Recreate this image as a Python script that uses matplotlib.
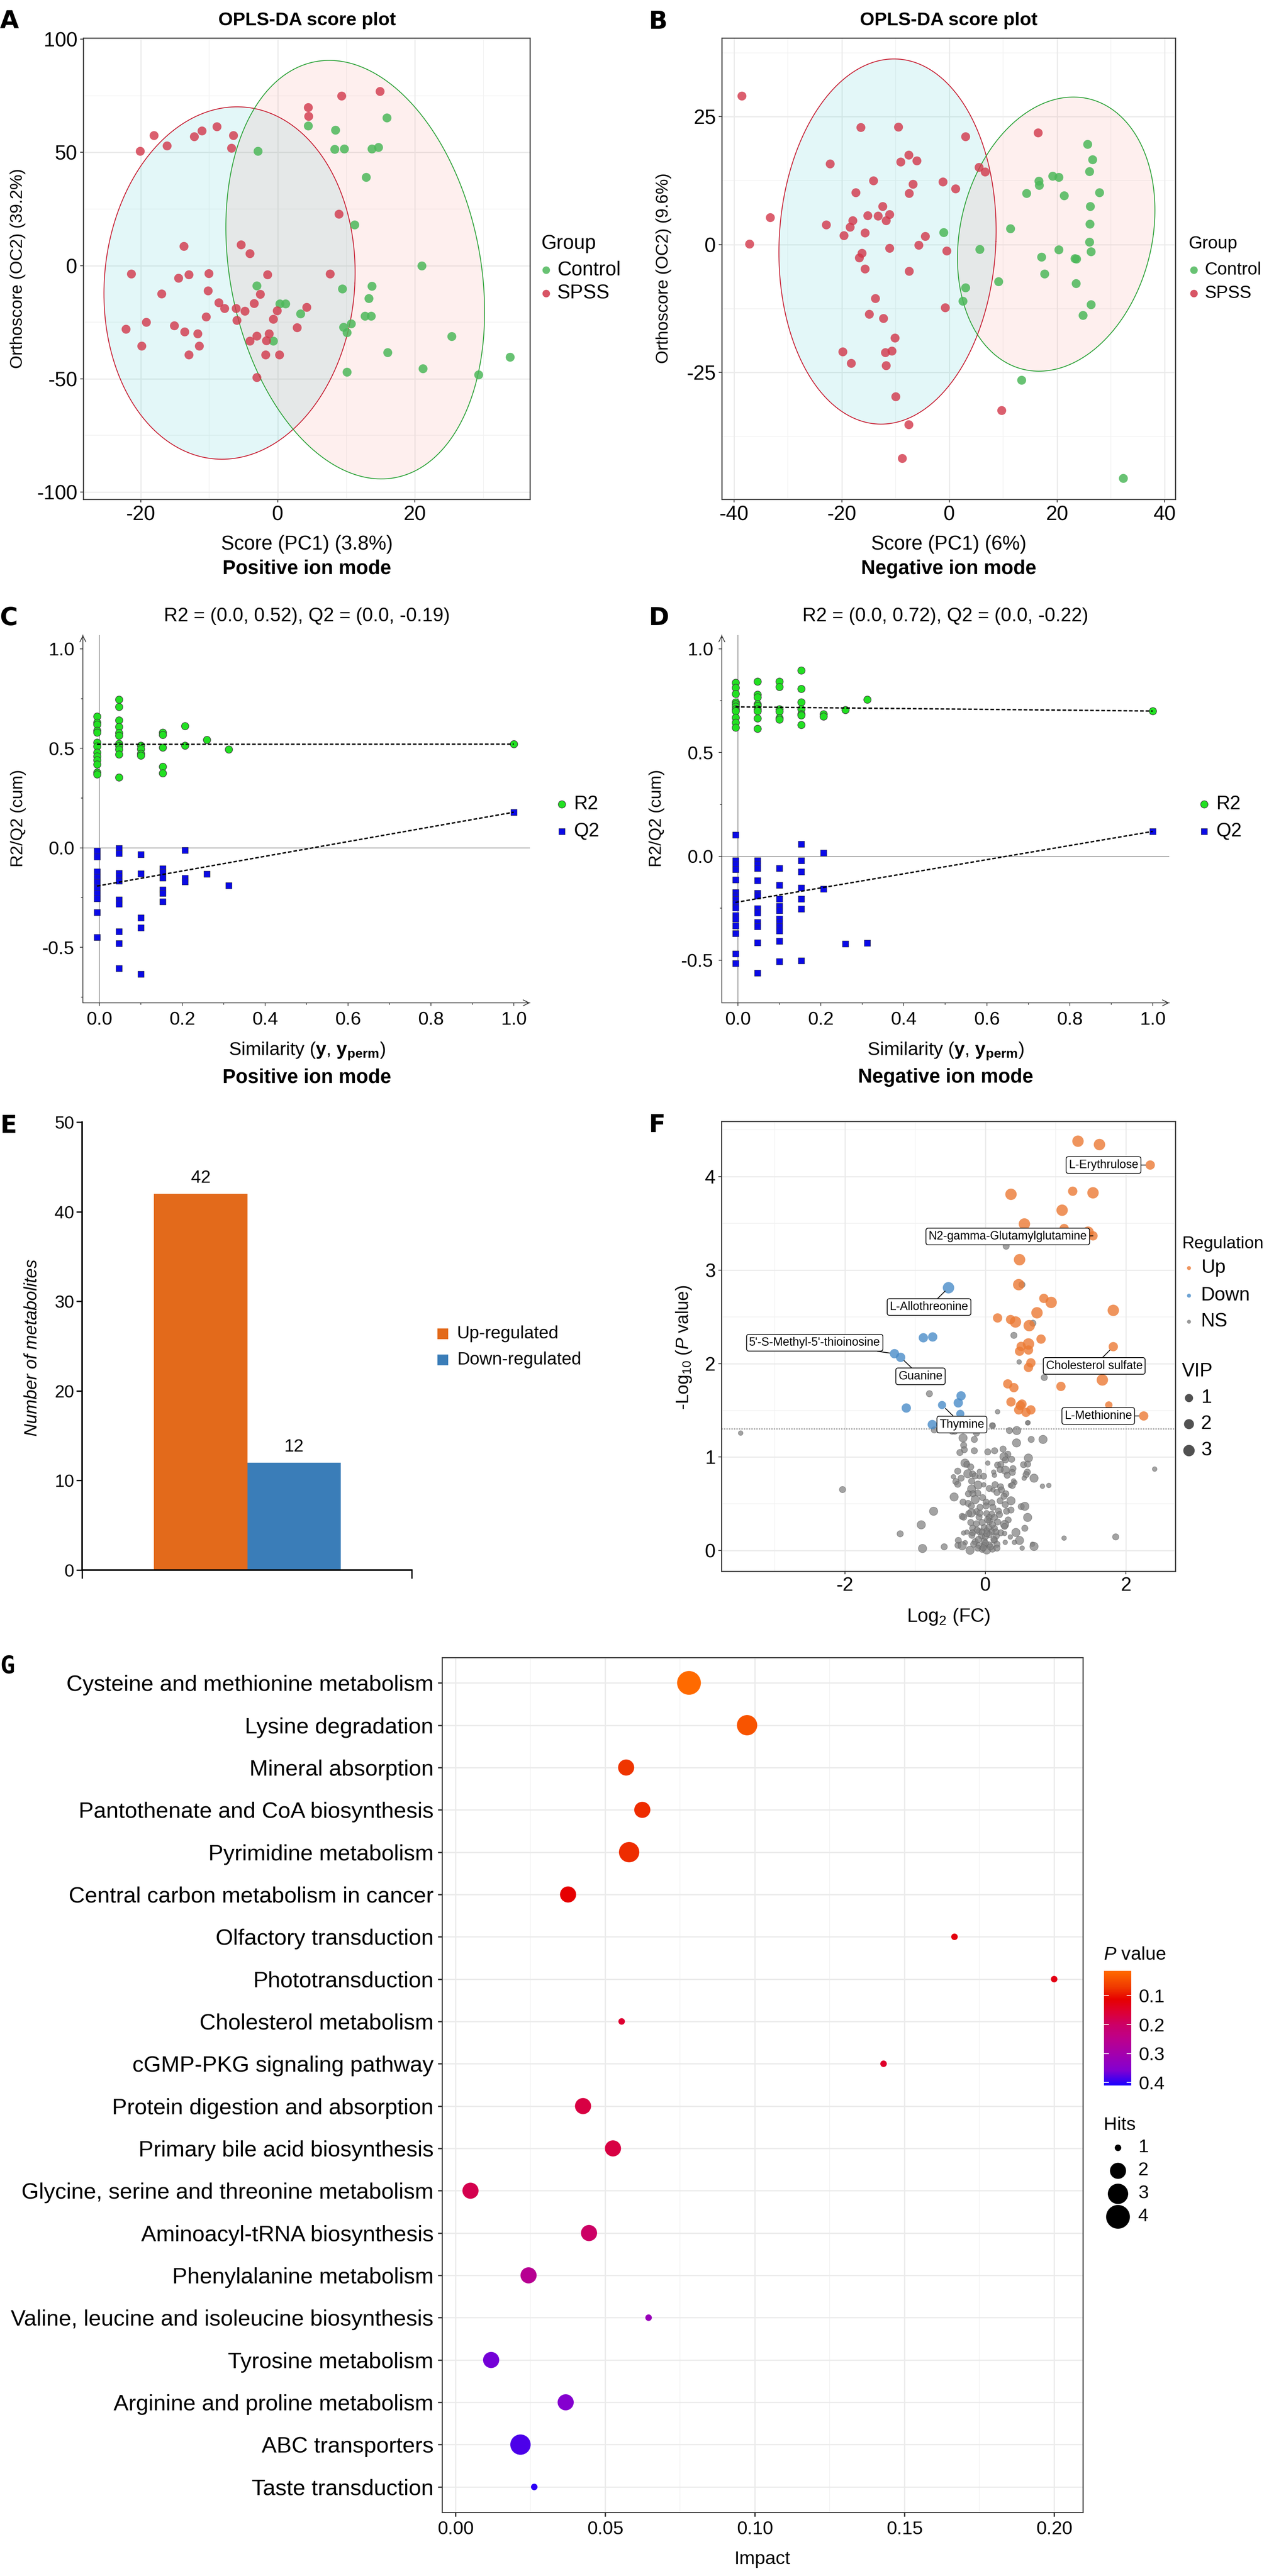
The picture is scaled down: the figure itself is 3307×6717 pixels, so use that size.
import numpy as np
import matplotlib
matplotlib.use('Agg')
import matplotlib.pyplot as plt
from matplotlib import font_manager as fm
from matplotlib.colors import LinearSegmentedColormap, Normalize
from matplotlib.cm import ScalarMappable

# ======================= DATA =======================
# Panel A - OPLS-DA positive ion mode (PC1 score, orthogonal score)
a_spss = [(14.9,77),(9.3,75),(4.4,69.8),(4.5,65.9),(-8.9,61.4),(-18.1,57.5),(-11.1,59.6),(-12.2,57.0),
          (-6.5,57.5),(-16.2,53.0),(-20.1,50.6),(-6.8,51.9),(8.9,22.8),(-13.7,8.6),(-5.4,9.2),(-4.1,5.3),
          (-21.4,-3.7),(-14.5,-5.5),(-13.0,-3.9),(-10.1,-3.4),(-1.5,-4.0),(7.6,-3.7),(-17.0,-12.4),
          (-10.2,-11.1),(-2.6,-12.6),(-8.6,-16.3),(-3.5,-16.6),(-7.8,-18.9),(-6.1,-18.9),(-4.8,-20.0),
          (-0.1,-19.9),(4.2,-18.4),(-10.5,-22.6),(-0.7,-23.6),(-6.0,-24.2),(-19.2,-24.9),(-15.1,-26.5),
          (2.8,-27.3),(-22.2,-28.1),(-13.6,-29.2),(-11.7,-30.0),(-1.3,-30.0),(-3.1,-31.0),(-4.1,-33.3),
          (-1.7,-33.1),(-19.9,-35.4),(-11.5,-35.4),(-13.0,-39.3),(-1.8,-39.3),(0.2,-39.3),(-3.1,-49.4)]
a_ctrl = [(15.9,65.3),(4.4,61.7),(8.4,59.9),(-2.9,50.6),(8.3,51.4),(9.7,51.5),(13.7,51.5),(14.7,52.3),
          (12.9,39.1),(11.2,18.1),(21.0,0.0),(-3.1,-8.9),(13.7,-9.0),(9.4,-10.3),(13.3,-14.4),(0.3,-16.8),
          (1.1,-16.8),(3.3,-21.3),(12.7,-22.3),(13.6,-22.3),(10.7,-25.7),(9.6,-27.1),(10.1,-29.6),
          (-0.7,-33.3),(25.4,-31.2),(16.0,-38.3),(33.9,-40.4),(21.2,-45.4),(10.1,-47.0),(29.3,-48.1)]
# confidence ellipses: (center x, center y, x radius, y radius, skew)
a_ell_spss = (-7.05, -7.7, 18.3, 77.8, 1.1)
a_ell_ctrl = (11.3, -1.8, 18.5, 92.4, -3.8)

# Panel B - OPLS-DA negative ion mode
b_spss = [(-38.6,29.1),(-37.2,0.1),(-33.3,5.3),(-22.2,15.8),(-16.5,22.9),(-9.5,23.0),(3.0,21.1),(16.5,21.9),
          (-7.6,17.5),(-9.1,16.2),(-6.1,16.4),(5.5,15.1),(6.6,14.2),(-14.1,12.5),(-1.2,12.3),(-6.8,11.8),
          (1.1,10.9),(-17.4,10.2),(-7.5,10.0),(-12.4,7.5),(-15.2,5.7),(-13.3,5.6),(-11.1,5.9),(-22.9,3.9),
          (-18.0,4.7),(-18.5,3.4),(-11.8,4.7),(-19.6,1.8),(-15.7,2.3),(-4.5,1.6),(-11.1,-0.7),(-5.7,-0.1),
          (-0.5,-1.2),(-16.3,-1.7),(-16.8,-2.6),(-15.7,-4.7),(-7.5,-5.2),(-13.8,-10.5),(-0.8,-12.3),
          (-14.9,-13.6),(-12.3,-14.4),(-10.1,-18.2),(-19.8,-20.9),(-10.7,-20.8),(-11.9,-21.1),
          (-18.3,-23.2),(-11.8,-23.6),(-10.0,-29.7),(9.7,-32.4),(-7.6,-35.2),(-8.8,-41.8)]
b_ctrl = [(25.7,19.6),(26.6,16.6),(26.0,14.3),(19.2,13.4),(20.3,13.2),(16.6,12.4),(16.7,11.6),(14.3,10.0),
          (21.3,9.6),(27.9,10.2),(26.2,7.5),(26.1,4.0),(11.3,3.1),(-1.1,2.4),(26.0,0.5),(5.6,-0.9),
          (20.3,-1.0),(26.3,-1.4),(17.1,-2.4),(23.3,-2.7),(23.6,-2.8),(17.7,-5.7),(9.1,-7.2),(23.5,-7.6),
          (3.0,-8.4),(2.5,-11.0),(26.3,-11.7),(24.8,-13.8),(13.4,-26.5),(32.3,-45.7)]
b_ell_spss = (-11.5, 0.6, 20.15, 35.7, 1.2)
b_ell_ctrl = (19.85, 2.05, 18.07, 26.8, 3.2)

# Panel C - permutation test, positive ion mode: (similarity, [values])
c_r2 = [(-0.006, [0.66,0.63,0.62,0.59,0.58,0.53,0.51,0.48,0.46,0.44,0.42,0.38,0.37]),
        (0.047, [0.746,0.709,0.641,0.609,0.578,0.564,0.523,0.513,0.494,0.470,0.354]),
        (0.100, [0.514,0.497,0.473,0.463]),
        (0.153, [0.580,0.568,0.504,0.408,0.375]),
        (0.206, [0.612,0.514]),
        (0.259, [0.542]),
        (0.312, [0.494]),
        (1.0, [0.521])]
c_q2 = [(-0.006, [-0.015,-0.045,-0.120,-0.146,-0.172,-0.200,-0.227,-0.254,-0.325,-0.449]),
        (0.047, [-0.003,-0.028,-0.127,-0.144,-0.167,-0.261,-0.282,-0.420,-0.480,-0.605]),
        (0.100, [-0.034,-0.129,-0.351,-0.402,-0.635]),
        (0.153, [-0.105,-0.122,-0.150,-0.210,-0.227,-0.270]),
        (0.206, [-0.012,-0.153,-0.170]),
        (0.259, [-0.131]),
        (0.312, [-0.189]),
        (1.0, [0.179])]
c_intercepts = (0.52, -0.19)

# Panel D - permutation test, negative ion mode
d_r2 = [(-0.006, [0.837,0.812,0.784,0.743,0.733,0.723,0.710,0.701,0.668,0.644,0.620]),
        (0.047, [0.842,0.779,0.767,0.734,0.726,0.710,0.700,0.665,0.616]),
        (0.100, [0.842,0.817,0.710,0.698,0.667,0.660]),
        (0.153, [0.896,0.807,0.743,0.710,0.686,0.680,0.634]),
        (0.206, [0.685,0.675]),
        (0.259, [0.705]),
        (0.312, [0.756]),
        (1.0, [0.700])]
d_q2 = [(-0.006, [0.104,-0.020,-0.041,-0.063,-0.112,-0.173,-0.190,-0.208,-0.228,-0.248,-0.285,-0.302,
                  -0.335,-0.371,-0.470,-0.515]),
        (0.047, [-0.020,-0.038,-0.058,-0.116,-0.177,-0.190,-0.252,-0.272,-0.318,-0.338,-0.416,-0.561]),
        (0.100, [-0.058,-0.139,-0.205,-0.241,-0.261,-0.302,-0.318,-0.338,-0.358,-0.409,-0.507]),
        (0.153, [0.059,-0.020,-0.074,-0.152,-0.206,-0.254,-0.502]),
        (0.206, [0.017,-0.158]),
        (0.259, [-0.421]),
        (0.312, [-0.417]),
        (1.0, [0.120])]
d_intercepts = (0.72, -0.22)

# Panel E - number of differential metabolites
e_categories = ['Up-regulated', 'Down-regulated']
e_counts = [42, 12]

# Panel F - volcano plot: (log2 FC, -log10 P, VIP)
f_up = [(1.318,4.378,3.0),(1.624,4.342,3.0),(2.347,4.123,1.6),(0.364,3.810,3.0),(1.243,3.843,1.6),
        (1.532,3.826,3.0),(1.092,3.640,3.0),(0.555,3.493,3.0),(1.121,3.444,1.6),(1.462,3.405,3.0),
        (1.532,3.366,1.6),(0.486,3.111,3.0),(0.474,2.844,3.0),(0.832,2.697,1.6),(0.936,2.654,3.0),
        (0.734,2.543,3.0),(1.821,2.569,3.0),(0.173,2.488,1.6),(0.358,2.471,1.6),(0.428,2.445,3.0),
        (0.624,2.406,3.0),(0.792,2.262,1.6),(0.613,2.210,3.0),(0.509,2.184,1.6),(1.821,2.181,1.6),
        (0.486,2.132,1.6),(0.613,2.145,1.6),(0.647,2.008,1.6),(0.613,1.959,1.6),(1.665,1.825,3.0),
        (0.318,1.783,1.6),(0.405,1.743,1.6),(1.075,1.756,1.6),(0.364,1.590,1.6),(0.520,1.567,1.6),
        (0.497,1.551,1.6),(1.757,1.557,0.7),(0.474,1.505,1.6),(0.647,1.505,1.6),(0.578,1.479,1.6),
        (2.254,1.440,1.6)]
f_down = [(-0.526,2.811,3.0),(-0.884,2.276,1.6),(-0.751,2.285,1.6),(-1.295,2.106,1.6),(-1.208,2.067,1.6),
          (-0.347,1.655,1.6),(-0.387,1.580,1.6),(-0.618,1.557,1.0),(-1.127,1.525,1.6),(-0.358,1.463,1.0),
          (-0.757,1.348,1.6)]
f_ns = [(-0.729,1.291,0.35),(-0.474,1.277,0.35),(-0.437,1.277,0.35),(-0.128,1.257,0.35),(0.100,1.336,0.35),
        (0.601,1.366,0.05),(0.342,1.284,0.35),(0.446,1.284,1.1),(-0.319,1.205,1.1),(-0.158,1.189,0.35),
        (0.652,1.189,0.35),(0.820,1.189,1.1),(0.443,1.152,1.1),(-0.310,1.127,0.35),(-0.301,1.079,0.35),
        (-0.364,1.049,0.35),(-0.158,1.068,0.35),(0.033,1.056,0.35),(0.131,1.068,0.35),(0.251,1.086,0.35),
        (0.319,1.031,0.35),(0.264,1.004,1.1),(0.373,0.977,0.35),(0.612,0.990,1.1),(0.033,0.936,0.05),
        (-0.291,0.936,1.1),(-0.264,0.922,0.35),(-0.209,0.895,0.35),(0.173,0.915,0.35),(0.219,0.922,0.35),
        (0.286,0.970,0.35),(0.543,0.919,0.35),(0.601,0.925,0.35),(0.392,0.877,0.35),(0.282,0.861,1.1),
        (0.209,0.867,0.35),(-0.395,0.850,0.35),(-0.086,0.847,0.05),(0.118,0.840,0.05),(0.383,0.836,0.35),
        (0.597,0.840,0.35),(-0.251,0.822,1.1),(-0.182,0.820,0.35),(-0.146,0.799,0.35),(-0.027,0.796,0.35),
        (0.128,0.806,0.05),(0.310,0.806,0.35),(0.579,0.813,0.35),(-0.455,0.790,0.05),(-0.346,0.775,0.35),
        (-0.087,0.790,0.05),(0.692,0.775,1.1),(0.552,0.775,0.05),(-0.421,0.738,0.35),(-0.197,0.743,0.35),
        (-0.395,0.710,0.35),(0.401,0.745,0.05),(0.419,0.728,0.05),(-0.106,0.701,1.1),(-0.024,0.704,0.05),
        (0.137,0.706,0.35),(0.355,0.697,0.05),(0.383,0.697,0.35),(0.812,0.689,0.05),(0.903,0.697,0.05),
        (0.055,0.665,0.35),(-0.197,0.658,1.1),(0.215,0.683,0.35),(0.228,0.649,0.35),(0.109,0.649,0.05),
        (0.164,0.622,0.35),(-0.109,0.615,0.35),(-0.242,0.608,0.35),(-0.178,0.608,0.35),(0.291,0.608,0.35),
        (-0.446,0.574,1.1),(0.264,0.581,0.35),(-0.040,0.567,0.35),(-0.146,0.546,1.1),(0.209,0.533,0.35),
        (0.364,0.533,1.1),(-0.319,0.519,0.35),(-0.246,0.505,0.35),(0.009,0.519,0.35),(0.091,0.512,0.35),
        (-0.077,0.464,0.35),(-0.200,0.478,0.35),(0.009,0.478,0.35),(0.106,0.464,0.35),(0.282,0.492,0.35),
        (0.510,0.471,0.35),(0.561,0.474,1.1),(-0.738,0.421,1.1),(-0.128,0.417,0.35),(-0.200,0.403,1.1),
        (0.018,0.396,0.35),(0.091,0.389,0.35),(0.186,0.423,0.35),(0.301,0.421,0.35),(0.364,0.434,0.35),
        (-0.331,0.366,0.35),(-0.310,0.358,0.35),(-0.237,0.396,0.35),(-0.091,0.358,0.35),(0.055,0.355,0.35),
        (0.128,0.355,0.35),(0.200,0.385,0.35),(0.601,0.355,1.1),(0.324,0.328,0.35),(-0.209,0.301,0.35),
        (-0.128,0.287,0.35),(-0.046,0.301,0.35),(0.055,0.314,0.35),(0.173,0.307,0.35),(0.273,0.280,1.1),
        (-0.914,0.276,1.1),(0.273,0.260,0.35),(0.561,0.239,0.35),(-0.182,0.239,0.35),(-0.018,0.246,0.35),
        (0.128,0.239,0.35),(-0.310,0.189,0.05),(-0.264,0.198,0.05),(-0.182,0.191,0.35),(-0.091,0.205,0.35),
        (0.018,0.212,0.35),(0.091,0.205,0.35),(0.219,0.191,0.35),(0.273,0.184,0.05),(0.434,0.194,1.1),
        (-0.193,0.164,0.35),(-0.055,0.157,0.35),(0.055,0.171,0.35),(0.155,0.157,0.35),(0.355,0.146,0.05),
        (1.120,0.134,0.05),(-0.386,0.109,0.35),(0.485,0.109,1.1),(-0.288,0.085,0.05),(-0.146,0.096,0.35),
        (-0.018,0.102,0.35),(0.128,0.109,0.35),(0.282,0.089,0.05),(0.413,0.089,0.05),(-0.391,0.057,0.35),
        (-0.331,0.052,1.1),(-0.168,0.068,0.35),(-0.091,0.055,0.35),(-0.018,0.055,0.35),(0.055,0.061,0.35),
        (0.164,0.068,0.35),(0.670,0.068,0.05),(0.692,0.045,1.1),(-0.587,0.041,0.35),(-0.896,0.023,1.1),
        (-0.109,0.027,0.35),(-0.046,0.014,0.35),(0.018,0.007,1.1),(0.100,0.016,0.35),(0.164,0.027,0.35),
        (-0.219,0.004,1.1),(0.523,0.027,0.05),(-0.05,0.20,0.35),(0.0,0.15,0.35),(0.05,0.25,0.35),
        (-0.1,0.12,0.35),(0.1,0.28,0.35),(0.0,0.08,0.35),(-0.03,0.03,0.35),(0.07,0.04,0.35),
        (0.12,0.12,0.35),(-0.12,0.22,0.35),(0.03,0.33,0.35),(-0.08,0.40,0.35),(0.15,0.20,0.35),
        (0.02,0.18,0.35),(0.295,3.255,0.35),(0.520,2.844,0.35),(0.676,2.432,0.35),(0.405,2.302,0.35),
        (0.480,2.018,0.05),(0.838,1.851,0.35),(-0.798,1.678,0.35),(0.173,1.485,0.05),(0.607,1.368,0.05),
        (0.104,1.339,0.05),(-3.486,1.257,0.05),(-2.035,0.653,0.35),(2.410,0.872,0.05),(-1.214,0.180,0.35),
        (1.855,0.147,0.35)]
# labelled metabolites: (name, log2 FC, -log10 P)
f_labels = [('L-Erythrulose', 2.347, 4.123),
            ('N2-gamma-Glutamylglutamine', 1.532, 3.366),
            ('L-Allothreonine', -0.526, 2.811),
            ("5'-S-Methyl-5'-thioinosine", -1.295, 2.106),
            ('Guanine', -1.208, 2.067),
            ('Cholesterol sulfate', 1.821, 2.181),
            ('Thymine', -0.618, 1.557),
            ('L-Methionine', 2.254, 1.440)]
f_p_threshold = 0.05

# Panel G - pathway enrichment
g_pathways = ['Cysteine and methionine metabolism', 'Lysine degradation', 'Mineral absorption',
              'Pantothenate and CoA biosynthesis', 'Pyrimidine metabolism',
              'Central carbon metabolism in cancer', 'Olfactory transduction', 'Phototransduction',
              'Cholesterol metabolism', 'cGMP-PKG signaling pathway', 'Protein digestion and absorption',
              'Primary bile acid biosynthesis', 'Glycine, serine and threonine metabolism',
              'Aminoacyl-tRNA biosynthesis', 'Phenylalanine metabolism',
              'Valine, leucine and isoleucine biosynthesis', 'Tyrosine metabolism',
              'Arginine and proline metabolism', 'ABC transporters', 'Taste transduction']
g_impact = [0.078, 0.0974, 0.057, 0.0624, 0.058, 0.0376, 0.1667, 0.200, 0.0555, 0.143, 0.0426, 0.0526,
            0.0050, 0.0446, 0.0244, 0.0645, 0.0119, 0.0368, 0.0217, 0.0263]
g_pvalue = [0.015, 0.04, 0.075, 0.08, 0.08, 0.115, 0.125, 0.13, 0.155, 0.15, 0.17, 0.17, 0.18, 0.2, 0.26,
            0.32, 0.365, 0.355, 0.385, 0.40]
g_hits = [4, 3, 2, 2, 3, 2, 1, 1, 1, 1, 2, 2, 2, 2, 2, 1, 2, 2, 3, 1]

# ======================= STYLE =======================
def has_font(name):
    try:
        fm.findfont(fm.FontProperties(family=name), fallback_to_default=False)
        return True
    except Exception:
        return False

NARROW = 'Liberation Sans Narrow' if has_font('Liberation Sans Narrow') else 'Liberation Sans'
SANS = 'Liberation Sans' if has_font('Liberation Sans') else 'DejaVu Sans'
plt.rcParams['font.family'] = [NARROW, 'DejaVu Sans']
plt.rcParams['axes.unicode_minus'] = False
plt.rcParams['mathtext.fontset'] = 'custom'
plt.rcParams['mathtext.rm'] = NARROW
plt.rcParams['mathtext.it'] = NARROW + ':italic'
plt.rcParams['mathtext.bf'] = NARROW + ':bold'

W, H = 3307, 6717
fig = plt.figure(figsize=(W / 100, H / 100), dpi=100)


def R(x0, y0, x1, y1):
    return [x0 / W, 1 - y1 / H, (x1 - x0) / W, (y1 - y0) / H]


ov = fig.add_axes([0, 0, 1, 1])
ov.set_xlim(0, W)
ov.set_ylim(H, 0)
ov.axis('off')
ov.set_zorder(20)


def T(x, y, s, size, ha='center', va='center', family=None, **kw):
    ov.text(x, y, s, fontsize=size, ha=ha, va=va, family=family or [NARROW, 'DejaVu Sans'], **kw)


def letter(x, y, s, mono=False):
    T(x, y, s, 46, ha='left', weight='bold', family='DejaVu Sans Mono' if mono else 'DejaVu Sans')


GRID_MAJ = '#EBEBEB'
GRID_MIN = '#F2F2F2'
DARK = '#333333'
RED_PT = '#D2374A'
GREEN_PT = '#4DB85A'


# ======================= A / B =======================
def score_panel(box, spss, ctrl, ell_s, ell_c, xlim, ylim, xmaj, xmin, ymaj, ymin):
    ax = fig.add_axes(R(*box))
    ax.set_xlim(xlim)
    ax.set_ylim(ylim)
    for v in xmin:
        ax.axvline(v, color=GRID_MIN, lw=1.3, zorder=0)
    for v in ymin:
        ax.axhline(v, color=GRID_MIN, lw=1.3, zorder=0)
    for v in xmaj:
        ax.axvline(v, color=GRID_MAJ, lw=2.2, zorder=0)
    for v in ymaj:
        ax.axhline(v, color=GRID_MAJ, lw=2.2, zorder=0)
    t = np.linspace(0, 2 * np.pi, 500)
    for (cx, cy, rx, ry, sk), fc, ec in ((ell_s, '#00BFC4', '#C81E32'), (ell_c, '#F8766D', '#2BA236')):
        ex = cx + rx * np.cos(t) + sk * np.sin(t)
        ey = cy + ry * np.sin(t)
        ax.fill(ex, ey, color=fc, alpha=0.11, lw=0, zorder=1)
        ax.plot(ex, ey, color=ec, lw=1.6, zorder=2)
    c = np.array(ctrl)
    s = np.array(spss)
    ax.scatter(c[:, 0], c[:, 1], s=280, color=GREEN_PT, alpha=0.85, lw=0, zorder=3)
    ax.scatter(s[:, 0], s[:, 1], s=280, color=RED_PT, alpha=0.8, lw=0, zorder=3)
    ax.set_xticks(xmaj)
    ax.set_xticklabels([str(int(v)) for v in xmaj])
    ax.set_yticks(ymaj)
    ax.set_yticklabels([str(int(v)) for v in ymaj])
    for sp in ax.spines.values():
        sp.set_color(DARK)
        sp.set_linewidth(2.0)
    ax.tick_params(length=6, width=1.6, color=DARK, labelsize=38, pad=5, labelcolor='black')
    return ax


score_panel((217, 99, 1381, 1302), a_spss, a_ctrl, a_ell_spss, a_ell_ctrl,
            (-28.4, 36.8), (-103.2, 100.5), [-20, 0, 20], [-10, 10, 30],
            [-100, -50, 0, 50, 100], [-75, -25, 25, 75])
score_panel((1881, 99, 3063, 1302), b_spss, b_ctrl, b_ell_spss, b_ell_ctrl,
            (-42.3, 42.0), (-49.8, 40.4), [-40, -20, 0, 20, 40], [-30, -10, 10, 30],
            [-25, 0, 25], [-37.5, -12.5, 12.5, 37.5])

for cx, sub, xl, yl, ylx in ((800, 'Positive ion mode', 'Score (PC1) (3.8%)', 'Orthoscore (OC2) (39.2%)', 47),
                             (2472, 'Negative ion mode', 'Score (PC1) (6%)', 'Orthoscore (OC2) (9.6%)', 1729)):
    T(cx, 53, 'OPLS-DA score plot', 35, weight='bold')
    T(cx, 1419, xl, 37)
    T(cx, 1483, sub, 37, weight='bold')
    T(ylx, 700, yl, 32, rotation=90, family=SANS)
letter(0, 57, 'A')
letter(1690, 57, 'B')
for gx, fs in ((1410, 37), (3098, 33)):
    T(gx, 636, 'Group', fs, ha='left')
    for yy, lab, col in ((704, 'Control', GREEN_PT), (765, 'SPSS', RED_PT)):
        ov.scatter([gx + 13], [yy], s=200, color=col, alpha=0.85, lw=0)
        T(gx + 42, yy, lab, fs, ha='left')


# ======================= C / D =======================
def flat(groups):
    xs = np.concatenate([[x] * len(v) for x, v in groups])
    ys = np.concatenate([v for _, v in groups])
    return xs, ys


def perm_panel(box, xlim, ylim, r2, q2, intercepts):
    ax = fig.add_axes(R(*box))
    ax.set_xlim(xlim)
    ax.set_ylim(ylim)
    ax.patch.set_alpha(0)
    for s in ('top', 'right'):
        ax.spines[s].set_visible(False)
    for s in ('left', 'bottom'):
        ax.spines[s].set_color(DARK)
        ax.spines[s].set_linewidth(1.4)
    ax.axvline(0, color='#8C8C8C', lw=1.3, zorder=1)
    ax.axhline(0, color='#8C8C8C', lw=1.3, zorder=1)
    arrow = dict(arrowstyle='->', color=DARK, lw=1.4, mutation_scale=28, shrinkA=0, shrinkB=0)
    ax.annotate('', xy=(1, 0), xycoords='axes fraction', xytext=(0.96, 0), arrowprops=arrow)
    ax.annotate('', xy=(0, 1), xycoords='axes fraction', xytext=(0, 0.96), arrowprops=arrow)
    rx, ry = flat(r2)
    qx, qy = flat(q2)
    ax.scatter(rx, ry, s=190, marker='o', facecolor='#22E022', edgecolor='#3C3C3C', lw=1.0, zorder=3)
    ax.scatter(qx, qy, s=140, marker='s', facecolor='#0A0AE6', edgecolor='#33334D', lw=0.8, zorder=3)
    xs = np.array([r2[0][0], 1.0])
    for (grp, icpt) in ((r2, intercepts[0]), (q2, intercepts[1])):
        last = grp[-1][1][0]
        ax.plot(xs, icpt + (last - icpt) * xs, color='black', lw=2.6, ls=(0, (2.6, 1.4)), zorder=4)
    ax.set_xticks([0, 0.2, 0.4, 0.6, 0.8, 1.0])
    ax.set_xticklabels(['0.0', '0.2', '0.4', '0.6', '0.8', '1.0'])
    ax.set_xticks([0.1, 0.3, 0.5, 0.7, 0.9], minor=True)
    ax.set_yticks([-0.5, 0, 0.5, 1.0])
    ax.set_yticklabels(['-0.5', '0.0', '0.5', '1.0'])
    ax.set_yticks([v for v in (-0.75, -0.25, 0.25, 0.75) if ylim[0] < v < ylim[1]], minor=True)
    ax.tick_params(which='major', length=6, width=1.3, color=DARK, labelsize=35, pad=10)
    ax.tick_params(which='minor', length=3.5, width=1.2, color=DARK)
    return ax


perm_panel((216, 1656, 1381, 2615), (-0.04, 1.039), (-0.779, 1.069), c_r2, c_q2, c_intercepts)
perm_panel((1881, 1656, 3047, 2615), (-0.039, 1.04), (-0.706, 1.066), d_r2, d_q2, d_intercepts)
for cx, ints, sub, ylx, lgx in ((800, c_intercepts, 'Positive ion mode', 47, 1464),
                                (2464, d_intercepts, 'Negative ion mode', 1712, 3138)):
    T(cx, 1607, 'R2 = (0.0, %.2f), Q2 = (0.0, %.2f)' % ints, 36)
    T(cx, 2741, r'Similarity ($\mathbf{y}$, $\mathbf{y}_{\mathbf{perm}}$)', 35)
    T(cx, 2810, sub, 37, weight='bold')
    T(ylx, 2134, 'R2/Q2 (cum)', 32, rotation=90, family=SANS)
    ov.scatter([lgx], [2097], s=190, marker='o', facecolor='#22E022', edgecolor='#3C3C3C', lw=1.0)
    ov.scatter([lgx], [2168], s=140, marker='s', facecolor='#0A0AE6', edgecolor='#33334D', lw=0.8)
    T(lgx + 32, 2097, 'R2', 36, ha='left')
    T(lgx + 32, 2168, 'Q2', 36, ha='left')
letter(0, 1612, 'C')
letter(1690, 1612, 'D')

# ======================= E =======================
ORANGE = '#E36A1B'
BLUE = '#3A7DB8'
axE = fig.add_axes(R(214, 2926, 1073, 4094))
xpos = np.arange(len(e_counts))
axE.bar(xpos, e_counts, width=1.0, color=[ORANGE, BLUE], lw=0)
axE.set_xlim(-1.27, 2.26)
axE.set_ylim(0, 50)
for s in ('top', 'right'):
    axE.spines[s].set_visible(False)
for s in ('left', 'bottom'):
    axE.spines[s].set_linewidth(3.0)
    axE.spines[s].set_color('black')
axE.set_yticks([0, 10, 20, 30, 40, 50])
axE.set_xticks([-1.27, 2.26])
axE.set_xticklabels(['', ''])
axE.tick_params(axis='y', length=11, width=2.5, labelsize=33, pad=4)
axE.tick_params(axis='x', length=16, width=2.5)
for x, v in zip(xpos, e_counts):
    axE.text(x, v + 0.8, str(v), ha='center', va='bottom', fontsize=33)
T(84, 3514, 'Number of metabolites', 33, rotation=90, family=SANS, style='italic')
for yy, lab, col in ((3478, e_categories[0], ORANGE), (3546, e_categories[1], BLUE)):
    ov.scatter([1154], [yy], s=380, marker='s', color=col, lw=0)
    T(1191, yy, lab, 33, ha='left')
letter(0, 2936, 'E')

# ======================= F =======================
def vip_size(v):
    r = 4.8 + 5.8 * np.sqrt(np.asarray(v))
    return (2 * r * 0.72) ** 2


axF = fig.add_axes(R(1880, 2924, 3063, 4097))
axF.set_xlim(-3.76, 2.705)
axF.set_ylim(-0.22, 4.59)
for v in (-3, -1, 1):
    axF.axvline(v, color=GRID_MIN, lw=1.3, zorder=0)
for v in (0.5, 1.5, 2.5, 3.5, 4.5):
    axF.axhline(v, color=GRID_MIN, lw=1.3, zorder=0)
for v in (-2, 0, 2):
    axF.axvline(v, color=GRID_MAJ, lw=2.2, zorder=0)
for v in (0, 1, 2, 3, 4):
    axF.axhline(v, color=GRID_MAJ, lw=2.2, zorder=0)
axF.axhline(-np.log10(f_p_threshold), color='#A8A8A8', lw=2.6, ls=(0, (1, 0.8)), zorder=1)
ns = np.array(f_ns)
up = np.array(f_up)
dn = np.array(f_down)
axF.scatter(ns[:, 0], ns[:, 1], s=vip_size(ns[:, 2]), facecolor=(0.5, 0.5, 0.5, 0.72),
            edgecolor=(0.38, 0.38, 0.38, 0.6), lw=1.0, zorder=2)
axF.scatter(up[:, 0], up[:, 1], s=vip_size(up[:, 2]), color='#EC7A34', alpha=0.8, lw=0, zorder=3)
axF.scatter(dn[:, 0], dn[:, 1], s=vip_size(dn[:, 2]), color='#4A8CC8', alpha=0.8, lw=0, zorder=3)
label_pos = {'L-Erythrulose': (1.682, 4.123), 'N2-gamma-Glutamylglutamine': (0.318, 3.359),
             'L-Allothreonine': (-0.803, 2.605), "5'-S-Methyl-5'-thioinosine": (-2.431, 2.223),
             'Guanine': (-0.925, 1.864), 'Cholesterol sulfate': (1.549, 1.975),
             'Thymine': (-0.335, 1.348), 'L-Methionine': (1.607, 1.440)}
for name, x, y in f_labels:
    axF.annotate(name, xy=(x, y), xytext=label_pos[name], ha='center', va='center', fontsize=22,
                 bbox=dict(boxstyle='round,pad=0.22,rounding_size=0.2', fc='white', ec='black', lw=1.4),
                 arrowprops=dict(arrowstyle='-', color='black', lw=1.5, shrinkA=0, shrinkB=9),
                 zorder=5)
axF.set_xticks([-2, 0, 2])
axF.set_xticklabels(['-2', '0', '2'])
axF.set_yticks([0, 1, 2, 3, 4])
for sp in axF.spines.values():
    sp.set_color(DARK)
    sp.set_linewidth(2.0)
axF.tick_params(length=6, width=1.6, color=DARK, labelsize=36, pad=5)
T(2472, 4216, r'Log$_2$ (FC)', 36)
T(1782, 3514, r'-Log$_{10}$ ($\mathit{P}$ value)', 33, rotation=90, family=SANS)
T(3080, 3243, 'Regulation', 32, ha='left')
for yy, lab, col in ((3306, 'Up', '#EC7A34'), (3378, 'Down', '#4A8CC8'), (3446, 'NS', '#808080')):
    ov.scatter([3098], [yy], s=55, color=col, alpha=0.8, lw=0)
    T(3130, yy, lab, 36, ha='left')
T(3080, 3576, 'VIP', 36, ha='left')
for yy, v in ((3645, 1), (3713, 2), (3782, 3)):
    ov.scatter([3098], [yy], s=vip_size(v), color='#333333', alpha=0.85, lw=0)
    T(3130, yy, str(v), 36, ha='left')
letter(1690, 2934, 'F')

# ======================= G =======================
cmapG = LinearSegmentedColormap.from_list('pv', [
    (0.0, '#FF6A00'), ((0.07 - 0.015) / 0.395, '#F03A00'), ((0.113 - 0.015) / 0.395, '#E60000'),
    ((0.158 - 0.015) / 0.395, '#DD0035'), ((0.2 - 0.015) / 0.395, '#CC0066'),
    ((0.245 - 0.015) / 0.395, '#BE0088'), ((0.3 - 0.015) / 0.395, '#A400AC'),
    ((0.357 - 0.015) / 0.395, '#8400D0'), (1.0, '#1A00FF')])
normG = Normalize(0.015, 0.41)


def hit_size(h):
    return np.interp(h, [1, 2, 3, 4], [150, 914, 1456, 1993])


axG = fig.add_axes(R(1152, 4322, 2822, 6551))
n = len(g_pathways)
ypos = np.arange(n)[::-1] + 1
axG.set_xlim(-0.0045, 0.2096)
axG.set_ylim(0.4, n + 0.6)
for v in (0.025, 0.075, 0.125, 0.175):
    axG.axvline(v, color=GRID_MIN, lw=1.3, zorder=0)
for v in (0, 0.05, 0.10, 0.15, 0.20):
    axG.axvline(v, color=GRID_MAJ, lw=2.4, zorder=0)
for v in ypos:
    axG.axhline(v, color=GRID_MAJ, lw=2.4, zorder=0)
axG.scatter(g_impact, ypos, s=hit_size(g_hits), c=g_pvalue, cmap=cmapG, norm=normG, lw=0, zorder=3)
axG.set_yticks(ypos)
axG.set_yticklabels(g_pathways, fontsize=42, family=SANS)
axG.set_xticks([0, 0.05, 0.10, 0.15, 0.20])
axG.set_xticklabels(['0.00', '0.05', '0.10', '0.15', '0.20'])
for sp in axG.spines.values():
    sp.set_color(DARK)
    sp.set_linewidth(2.0)
axG.tick_params(axis='y', length=8, width=2.5, color=DARK, pad=8)
axG.tick_params(axis='x', length=8, width=2.5, color=DARK, labelsize=35, pad=8)
T(1987, 6673, 'Impact', 35)
letter(0, 4345, 'G', mono=True)

cax = fig.add_axes(R(2877, 5139, 2948, 5438))
cb = fig.colorbar(ScalarMappable(norm=normG, cmap=cmapG), cax=cax)
cb.outline.set_visible(False)
cax.invert_yaxis()
cb.set_ticks([0.1, 0.2, 0.3, 0.4])
cb.set_ticklabels(['0.1', '0.2', '0.3', '0.4'])
cax.minorticks_off()
cax.tick_params(which='major', direction='in', color='white', length=9, width=1.5,
                left=True, right=True, labelleft=False, labelright=True, labelsize=35, pad=14)
T(2876, 5097, r'$\mathit{P}$ value', 35, ha='left')
T(2876, 5541, 'Hits', 35, ha='left')
for yy, h in ((5600, 1), (5660, 2), (5720, 3), (5780, 4)):
    ov.scatter([2913], [yy], s=hit_size(h), color='black', lw=0)
    T(2966, yy, str(h), 35, ha='left')

fig.savefig('out.png', dpi=100)
